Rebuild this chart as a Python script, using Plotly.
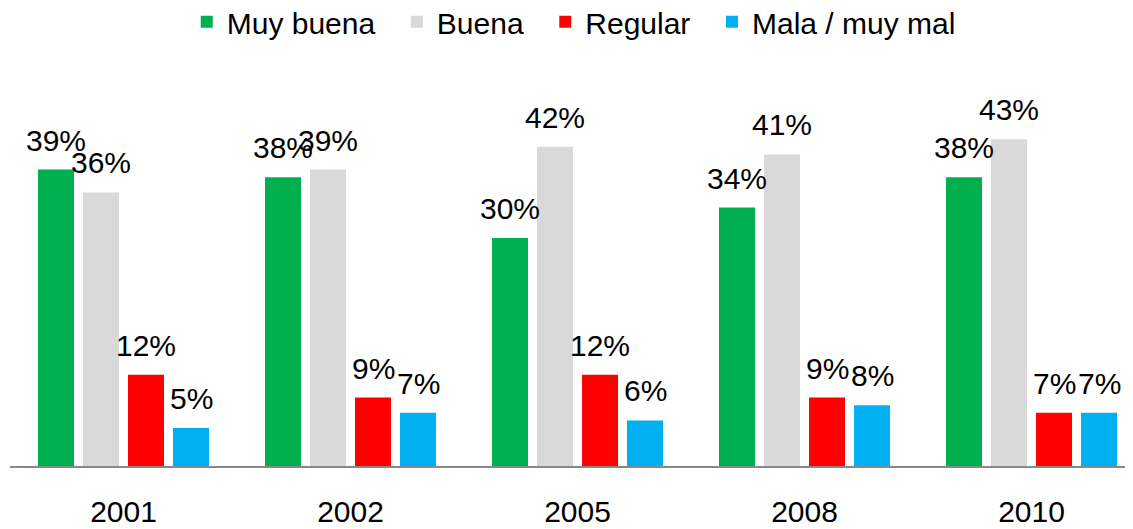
import plotly.graph_objects as go

years = ["2001", "2002", "2005", "2008", "2010"]
series_names = ["Muy buena", "Buena", "Regular", "Mala / muy mal"]
muy_buena = [39, 38, 30, 34, 38]
buena = [36, 39, 42, 41, 43]
regular = [12, 9, 12, 9, 7]
mala = [5, 7, 6, 8, 7]
colors = ["#00B050", "#D9D9D9", "#FF0000", "#00B0F0"]

FONT = "Arial, Liberation Sans, sans-serif"
series = [muy_buena, buena, regular, mala]
PAD = "\u00a0\u00a0"

fig = go.Figure()
for k, (name, vals, col) in enumerate(zip(series_names, series, colors)):
    label = name + (PAD if k < len(series_names) - 1 else "")
    fig.add_trace(go.Bar(name=label, x=years, y=vals,
                         marker=dict(color=col, line=dict(width=0))))

pitch = 45
for i, vals in enumerate(series):
    for j, v in enumerate(vals):
        fig.add_annotation(
            x=j, y=v, xref="x", yref="y", text=f"{v}%", showarrow=False,
            xshift=(i - 1.5) * pitch, yanchor="bottom", yshift=11,
            font=dict(family=FONT, size=30, color="#000000"),
        )

fig.update_layout(
    width=1125, height=521,
    margin=dict(l=2, r=0, t=52, b=63, autoexpand=False),
    paper_bgcolor="white", plot_bgcolor="white",
    barmode="group", bargap=0.207, bargroupgap=0.2,
    font=dict(family=FONT, size=30, color="#000000"),
    legend=dict(orientation="h", x=0.502, xanchor="center", y=1.094, yanchor="middle",
                font=dict(family=FONT, size=30, color="#000000"),
                itemclick=False, bgcolor="rgba(0,0,0,0)"),
    xaxis=dict(type="category", range=[-0.5, 4.447], showline=True, linecolor="#898989", linewidth=2,
               ticks="outside", ticklen=18, tickcolor="rgba(0,0,0,0)",
               tickfont=dict(family=FONT, size=30, color="#000000"), showgrid=False),
    yaxis=dict(range=[0, 53.42], showticklabels=False, showline=False, ticks="",
               showgrid=False, zeroline=False),
)

fig.write_html("out.html")
